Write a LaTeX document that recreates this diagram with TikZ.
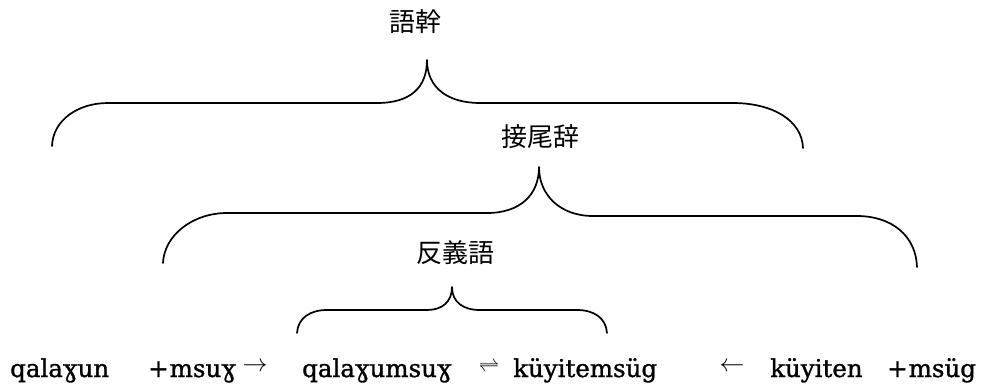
\documentclass[tikz,border=0pt]{standalone}
\usepackage{fontspec}
\setmainfont{DejaVu Serif}
\newfontfamily\lat{DejaVu Serif}[FakeBold=1.2]
\newfontfamily\cjk{Noto Sans CJK JP}
\begin{document}
\begin{tikzpicture}[x=1pt,y=-1pt,
  brace/.style={line width=1.7pt, line cap=round, line join=round},
  word/.style={inner sep=0pt, anchor=base west, font=\lat\fontsize{24.5}{28}\selectfont},
  lab/.style={inner sep=0pt, anchor=center, font=\cjk\fontsize{26}{30}\selectfont},
  sym/.style={inner sep=0pt, anchor=center, font=\fontsize{26}{30}\selectfont}]
\useasboundingbox (0,0) rectangle (986,388);
% labels
\node[lab] (stem) at (415,22) {語幹};
\node[lab] (suffix) at (540,137) {接尾辞};
\node[lab] (anto) at (455,253) {反義語};
% brace 1
\draw[brace] (52,146) .. controls (53,120) and (78,103) .. (108,103) -- (377,103)
  .. controls (410,103) and (427,88) .. (427,60)
  .. controls (427,88) and (448,103) .. (480,103) -- (733,103)
  .. controls (772,103) and (802,120) .. (803,148);
% brace 2
\draw[brace] (163,263) .. controls (164,236) and (192,213) .. (227,213) -- (487,213)
  .. controls (520,213) and (539,195) .. (539,167)
  .. controls (539,195) and (560,216) .. (593,216) -- (857,216)
  .. controls (892,216) and (916,236) .. (917,267);
% brace 3
\draw[brace] (297,333) .. controls (298,318) and (310,310) .. (327,310) -- (427,310)
  .. controls (442,310) and (452,302) .. (452,287)
  .. controls (452,302) and (463,310) .. (480,310) -- (577,310)
  .. controls (594,310) and (606,318) .. (607,333);
% bottom line
\node[word] (w1) at (10,377) {qalaɣun};
\node[word] (w2) at (148,377) {+\hspace{1pt}msuɣ};
\node[sym] (a1) at (255,367) {$\rightarrow$};
\node[word] (w3) at (302,377) {qalaɣumsuɣ};
\node[sym, font=\fontsize{21}{24}\selectfont] (eq) at (489,367) {$\rightleftharpoons$};
\node[word] (w4) at (513,377) {küyitemsüg};
\node[sym] (a2) at (732,367) {$\leftarrow$};
\node[word] (w5) at (770,377) {küyiten};
\node[word] (w6) at (887,377) {+\hspace{1pt}msüg};
\end{tikzpicture}
\end{document}
